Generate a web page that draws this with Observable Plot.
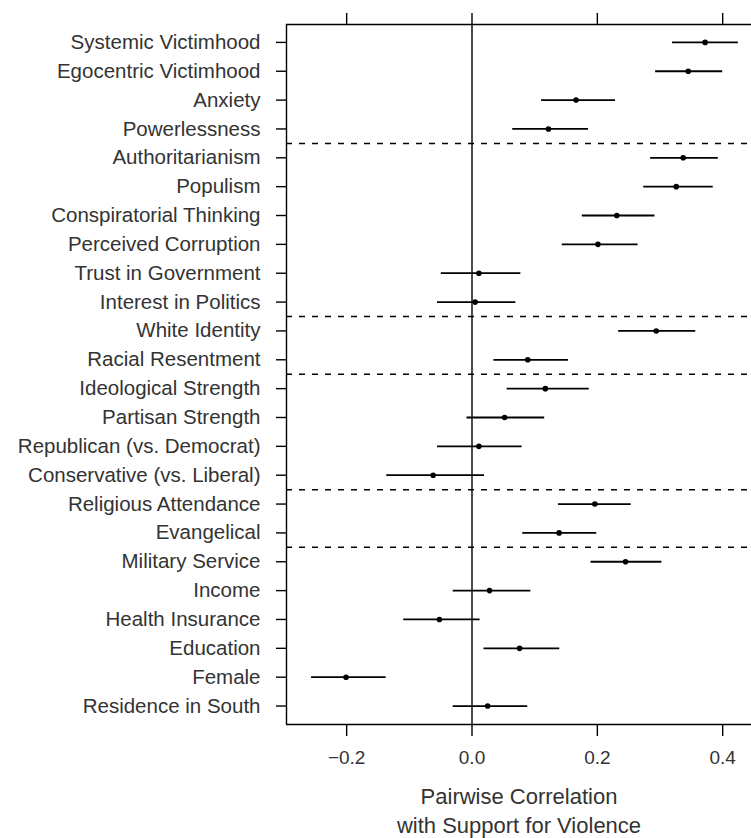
<!DOCTYPE html>
<html>
<head>
<meta charset="utf-8">
<script src="https://cdn.jsdelivr.net/npm/d3@7"></script>
<script src="https://cdn.jsdelivr.net/npm/@observablehq/plot@0.6"></script>
<style>
  html, body { margin: 0; padding: 0; background: #fff; }
  #chart svg { display: block; }
</style>
</head>
<body>
<div id="chart"></div>
<script>
const labels = [
  "Systemic Victimhood", "Egocentric Victimhood", "Anxiety", "Powerlessness",
  "Authoritarianism", "Populism", "Conspiratorial Thinking", "Perceived Corruption",
  "Trust in Government", "Interest in Politics",
  "White Identity", "Racial Resentment",
  "Ideological Strength", "Partisan Strength", "Republican (vs. Democrat)", "Conservative (vs. Liberal)",
  "Religious Attendance", "Evangelical",
  "Military Service", "Income", "Health Insurance", "Education", "Female", "Residence in South"
];
const estimate = [0.372, 0.345, 0.166, 0.122, 0.337, 0.326, 0.231, 0.201, 0.011, 0.005,
  0.294, 0.089, 0.117, 0.052, 0.011, -0.062, 0.196, 0.139, 0.245, 0.028, -0.052, 0.076, -0.201, 0.025];
const lower = [0.320, 0.293, 0.111, 0.065, 0.285, 0.274, 0.176, 0.144, -0.049, -0.055,
  0.234, 0.035, 0.056, -0.008, -0.055, -0.136, 0.138, 0.081, 0.190, -0.030, -0.109, 0.019, -0.256, -0.030];
const upper = [0.425, 0.400, 0.229, 0.186, 0.393, 0.385, 0.292, 0.265, 0.078, 0.070,
  0.357, 0.154, 0.187, 0.116, 0.080, 0.020, 0.254, 0.199, 0.303, 0.094, 0.013, 0.140, -0.137, 0.089];
const groupStarts = [4, 10, 12, 16, 18];
const xTicks = [-0.2, 0.0, 0.2, 0.4];
const xTitle = "Pairwise Correlation\nwith Support for Violence";

const rows = labels.map((name, i) => ({i, name, est: estimate[i], lo: lower[i], hi: upper[i]}));
const dividers = groupStarts.map(g => g - 0.5);
const font = "'Liberation Sans', Arial, Helvetica, sans-serif";
const ink = "#333";

const chart = Plot.plot({
  width: 751,
  height: 838,
  marginTop: 24,
  marginBottom: 114,
  marginLeft: 286,
  marginRight: 0,
  style: {fontFamily: font, background: "#fff", color: ink, overflow: "visible"},
  x: {domain: [-0.296, 0.446]},
  y: {domain: [-0.62, 23.64], reverse: true},
  marks: [
    Plot.ruleY(dividers, {y: d => d, stroke: "#000", strokeWidth: 1.5, strokeDasharray: "6,7"}),
    Plot.ruleX([0], {stroke: "#000", strokeWidth: 1.4}),
    Plot.ruleY(rows, {y: "i", x1: "lo", x2: "hi", stroke: "#000", strokeWidth: 1.8}),
    Plot.dot(rows, {y: "i", x: "est", r: 2.8, fill: "#000", stroke: null}),
    // frame: left, top, bottom
    Plot.ruleX([-0.296], {stroke: "#000", strokeWidth: 1.4}),
    Plot.ruleY([-0.62, 23.64], {stroke: "#000", strokeWidth: 1.4}),
    Plot.axisX({anchor: "bottom", ticks: xTicks, tickSize: 12, tickPadding: 14,
      tickFormat: d => d3.format(".1f")(d).replace("-", "\u2212"),
      fontSize: 19, label: null, stroke: "#000", strokeWidth: 1.4, fill: ink}),
    Plot.axisX({anchor: "top", ticks: xTicks, tickSize: 12, tickFormat: () => "",
      label: null, stroke: "#000", strokeWidth: 1.4}),
    Plot.axisY({anchor: "left", ticks: d3.range(labels.length), tickSize: 10, tickPadding: 16,
      tickFormat: i => labels[i], fontSize: 20.5, label: null, stroke: "#000", strokeWidth: 1.4, fill: ink}),
    Plot.text([xTitle], {frameAnchor: "bottom", lineAnchor: "middle", dy: 85, fontSize: 22, lineHeight: 1.3,
      fill: ink, text: d => d, letterSpacing: 0.7})
  ]
});
document.getElementById("chart").append(chart);
</script>
</body>
</html>
